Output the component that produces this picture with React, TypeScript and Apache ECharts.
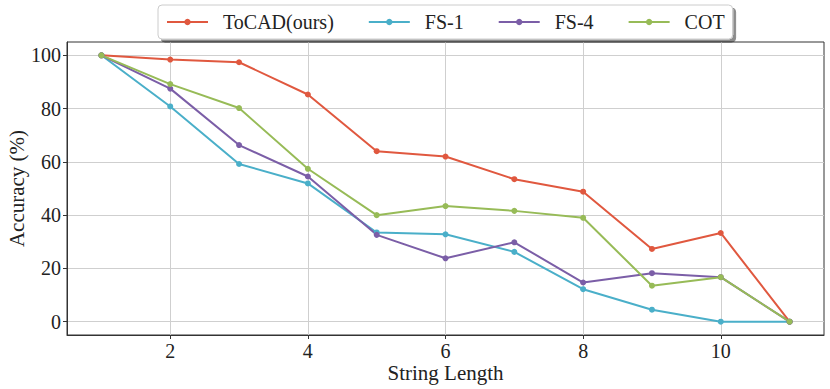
import React, { useEffect, useRef } from "react";
import * as echarts from "echarts";

const lengths = [1, 2, 3, 4, 5, 6, 7, 8, 9, 10, 11];
const toCAD = [100, 98.4, 97.4, 85.3, 64.0, 62.0, 53.5, 48.8, 27.3, 33.3, 0];
const fs1 = [100, 80.8, 59.2, 51.9, 33.5, 32.8, 26.2, 12.2, 4.5, 0, 0];
const fs4 = [100, 87.5, 66.3, 54.5, 32.6, 23.8, 29.8, 14.7, 18.2, 16.7, 0];
const cot = [100, 89.2, 80.2, 57.4, 40.0, 43.4, 41.6, 39.0, 13.5, 16.7, 0];
const xTicks = [2, 4, 6, 8, 10];
const yTicks = [0, 20, 40, 60, 80, 100];

const seriesDefs = [
  { name: "ToCAD(ours)", data: toCAD, color: "#e0583f" },
  { name: "FS-1", data: fs1, color: "#4aafc9" },
  { name: "FS-4", data: fs4, color: "#7b5ea7" },
  { name: "COT", data: cot, color: "#97bb57" },
];

const FONT = "Liberation Serif";

export default function App() {
  const ref = useRef<HTMLDivElement>(null);
  useEffect(() => {
    if (!ref.current) return;
    const chart = echarts.init(ref.current, undefined, { renderer: "svg" });
    chart.setOption({
      animation: false,
      textStyle: { fontFamily: FONT },
      grid: {
        left: 67,
        right: 6,
        top: 42,
        bottom: 54,
        show: true,
        borderColor: "#333",
        borderWidth: 1,
        containLabel: false,
        outerBoundsMode: "none",
      },
      legend: {
        left: 158,
        top: 5,
        padding: [7, 8, 7, 8],
        itemWidth: 41,
        itemHeight: 8,
        itemGap: 34,
        borderColor: "#cccccc",
        borderWidth: 1,
        borderRadius: 4,
        backgroundColor: "#fff",
        shadowColor: "rgba(0,0,0,0.45)",
        shadowOffsetX: 3,
        shadowOffsetY: 3,
        shadowBlur: 0,
        textStyle: { fontFamily: FONT, fontSize: 20, color: "#222", padding: [0, 0, 0, 10] },
        data: seriesDefs.map((s) => s.name),
      },
      xAxis: {
        type: "value",
        min: 0.5,
        max: 11.5,
        name: "String Length",
        nameLocation: "middle",
        nameGap: 27,
        nameMoveOverlap: false,
        nameTextStyle: { fontFamily: FONT, fontSize: 21, color: "#222", verticalAlign: "top" },
        axisLine: { show: true, onZero: false, lineStyle: { color: "#333", width: 1 } },
        axisTick: { show: true, inside: false, length: 4, customValues: xTicks, lineStyle: { color: "#333" } },
        axisLabel: { customValues: xTicks, fontFamily: FONT, fontSize: 20, color: "#222", margin: 6 },
        splitLine: { show: true, lineStyle: { color: "#cfcfcf", width: 1 } },
      },
      yAxis: {
        type: "value",
        min: -5,
        max: 105,
        name: "Accuracy (%)",
        nameLocation: "middle",
        nameGap: 40,
        nameMoveOverlap: false,
        nameTextStyle: { fontFamily: FONT, fontSize: 21, color: "#222", verticalAlign: "bottom" },
        axisLine: { show: true, onZero: false, lineStyle: { color: "#333", width: 1 } },
        axisTick: { show: true, inside: false, length: 4, customValues: yTicks, lineStyle: { color: "#333" } },
        axisLabel: { customValues: yTicks, fontFamily: FONT, fontSize: 20, color: "#222", margin: 6 },
        splitLine: { show: true, lineStyle: { color: "#cfcfcf", width: 1 } },
      },
      series: seriesDefs.map((s) => ({
        name: s.name,
        type: "line",
        data: lengths.map((x, i) => [x, s.data[i]]),
        symbol: "circle",
        symbolSize: 6,
        itemStyle: { color: s.color },
        lineStyle: { color: s.color, width: 2 },
      })),
    });
    return () => chart.dispose();
  }, []);
  return <div ref={ref} style={{ width: 830, height: 389, position: "absolute", left: 0, top: 0 }} />;
}
